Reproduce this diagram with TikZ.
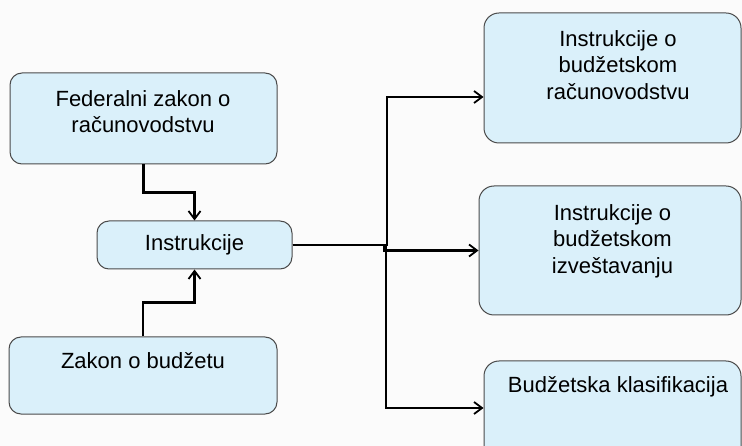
\documentclass[tikz,border=0pt]{standalone}
\usepackage{fontspec}
\setmainfont{Liberation Sans}
\usetikzlibrary{arrows.meta}
\definecolor{boxfill}{RGB}{218,240,250}
\definecolor{boxline}{RGB}{75,75,75}
\definecolor{bgcol}{RGB}{251,251,251}
\begin{document}
\begin{tikzpicture}[x=1pt,y=-1pt,
  box/.style={draw=boxline, line width=1pt, fill=boxfill, rounded corners=12pt, inner sep=0pt},
  rbox/.style={box, rounded corners=15pt},
  txt/.style={font=\fontsize{22}{26.5}\selectfont, align=center, inner sep=0pt, anchor=north, text=black},
  conn/.style={line width=2.2pt, -{Straight Barb[length=8pt,width=12pt,line width=1.8pt]}}]
\clip (0,0) rectangle (742,446);
\fill[bgcol] (0,0) rectangle (742,446);
% boxes
\node[box, minimum width=267pt, minimum height=91pt] (fed) at (143.5,118.5) {};
\node[box, minimum width=195pt, minimum height=48pt] (ins) at (194.5,245) {};
\node[box, minimum width=268pt, minimum height=77pt] (zak) at (143,375.5) {};
\node[rbox, minimum width=257pt, minimum height=130pt] (r1) at (612.5,78) {};
\node[rbox, minimum width=262pt, minimum height=129pt] (r2) at (610,250.5) {};
\node[rbox, minimum width=257pt, minimum height=130pt] (r3) at (612.5,426) {};
% texts
\node[txt] (tfed) at (143,90) {Federalni zakon o\\računovodstvu};
\node[txt] (tins) at (194.5,234) {Instrukcije};
\node[txt] (tzak) at (143,352) {Zakon o budžetu};
\node[txt] (tr1) at (618,30) {Instrukcije o\\budžetskom\\računovodstvu};
\node[txt] (tr2) at (612.5,204) {Instrukcije o\\budžetskom\\izveštavanju};
\node[txt] (tr3) at (618,376) {Budžetska klasifikacija};
% connectors
\draw[conn] (fed.south) -- ++(0,28) -| (ins.north);
\draw[conn] (zak.north) -- ++(0,-34) -| (ins.south);
\draw[conn] (ins.east) -- (387,245) -- (387,97) -- (r1.west |- 0,97);
\draw[conn] (ins.east) -- (384,245) -- (384,250.5) -- (r2.west);
\draw[conn] (ins.east) -- (386,245) -- (386,408) -- (r3.west |- 0,408);
\end{tikzpicture}
\end{document}
